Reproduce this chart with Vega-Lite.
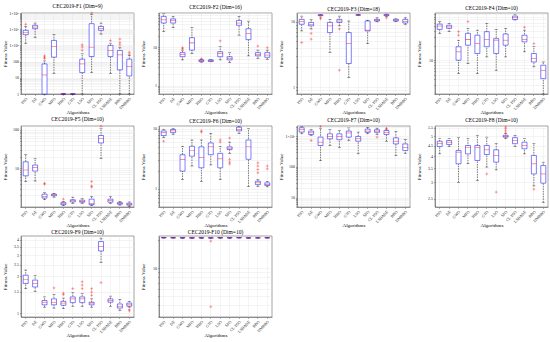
{
"$schema":"https://vega.github.io/schema/vega-lite/v6.json",
"padding":{"left":1,"top":3,"right":2,"bottom":0},
"spacing":{"row":1,"column":4},
"columns":4,
"config":{
 "view":{"stroke":"#444","strokeWidth":0.5},
 "title":{"font":"Liberation Serif","fontSize":5.5,"fontWeight":"normal","offset":1,"color":"#000"},
 "style":{"group-title":{"font":"Liberation Serif","fontSize":5.5,"fontWeight":"normal"}},
 "axis":{"labelFont":"Liberation Serif","labelFontSize":4,"titleFont":"Liberation Serif","titleFontSize":5,"titleFontWeight":"normal","labelColor":"#222","titleColor":"#000","grid":true,"gridColor":"#e4e4e4","gridWidth":0.4,"tickSize":1.5,"tickWidth":0.4,"tickColor":"#444","domainColor":"#444","domainWidth":0.5,"labelPadding":1,"titlePadding":2,"labelOverlap":false,"labelBound":false,"labelFlush":false},
 "axisY":{"minExtent":12,"maxExtent":12},
 "axisX":{"labelAngle":-45,"minExtent":14,"maxExtent":14,"titlePadding":1}
},
"datasets":{
"b":[
{"f":"F1","a":"PSO","lo":1380,"q1":4560,"md":6000,"q3":8500,"hi":15000},
{"f":"F1","a":"DE","lo":3100,"q1":10700,"md":13600,"q3":17300,"hi":24000},
{"f":"F1","a":"GWO","lo":1,"q1":1,"md":15,"q3":72,"hi":110},
{"f":"F1","a":"MFO","lo":19,"q1":188,"md":860,"q3":2030,"hi":4560},
{"f":"F1","a":"HHO","lo":1,"q1":1,"md":1,"q3":1,"hi":1},
{"f":"F1","a":"GTO","lo":1,"q1":1,"md":1,"q3":1,"hi":1},
{"f":"F1","a":"LSO","lo":1,"q1":21,"md":72,"q3":141,"hi":300},
{"f":"F1","a":"SFO","lo":21,"q1":205,"md":780,"q3":21900,"hi":79000},
{"f":"F1","a":"CL-PSO","lo":5000,"q1":8500,"md":11200,"q3":14800,"hi":24000},
{"f":"F1","a":"LSHADE","lo":19,"q1":205,"md":490,"q3":1000,"hi":1380},
{"f":"F1","a":"BBO","lo":1,"q1":31,"md":260,"q3":490,"hi":780},
{"f":"F1","a":"DMBBO","lo":1,"q1":13,"md":49,"q3":141,"hi":240},
{"f":"F2","a":"PSO","lo":26,"q1":43.6,"md":53,"q3":65,"hi":76},
{"f":"F2","a":"DE","lo":33,"q1":43.6,"md":51,"q3":56,"hi":65},
{"f":"F2","a":"GWO","lo":4.7,"q1":5.7,"md":6.6,"q3":7.3,"hi":8.5},
{"f":"F2","a":"MFO","lo":7,"q1":8.5,"md":13.2,"q3":18,"hi":33},
{"f":"F2","a":"HHO","lo":4.1,"q1":4.26,"md":4.5,"q3":4.7,"hi":4.9},
{"f":"F2","a":"GTO","lo":4.2,"q1":4.26,"md":4.5,"q3":4.7,"hi":4.8},
{"f":"F2","a":"LSO","lo":4.7,"q1":5.7,"md":7.0,"q3":7.7,"hi":10.4},
{"f":"F2","a":"SFO","lo":4.0,"q1":4.7,"md":5.2,"q3":5.7,"hi":7.3},
{"f":"F2","a":"CL-PSO","lo":21,"q1":38,"md":43.6,"q3":51,"hi":65},
{"f":"F2","a":"LSHADE","lo":6.0,"q1":16,"md":23,"q3":31,"hi":49},
{"f":"F2","a":"BBO","lo":5.2,"q1":6.0,"md":6.6,"q3":7.3,"hi":8.5},
{"f":"F2","a":"DMBBO","lo":4.9,"q1":5.5,"md":6.3,"q3":7.3,"hi":8.5},
{"f":"F3","a":"PSO","lo":7.2,"q1":9.1,"md":10,"q3":10.8,"hi":12.1},
{"f":"F3","a":"DE","lo":7.7,"q1":8.6,"md":9.1,"q3":9.7,"hi":10.8},
{"f":"F3","a":"GWO","lo":12.2,"q1":12.3,"md":12.5,"q3":12.7,"hi":12.8},
{"f":"F3","a":"MFO","lo":3.4,"q1":6.8,"md":8.6,"q3":9.7,"hi":10.8},
{"f":"F3","a":"HHO","lo":8.6,"q1":9.7,"md":10.2,"q3":10.8,"hi":12.1},
{"f":"F3","a":"GTO","lo":1.4,"q1":2.3,"md":4.6,"q3":6.8,"hi":10.2},
{"f":"F3","a":"LSO","lo":12.6,"q1":12.6,"md":12.6,"q3":12.6,"hi":12.6},
{"f":"F3","a":"SFO","lo":4.6,"q1":7.2,"md":7.4,"q3":10.2,"hi":10.5},
{"f":"F3","a":"CL-PSO","lo":9.9,"q1":10.2,"md":10.5,"q3":10.8,"hi":11.4},
{"f":"F3","a":"LSHADE","lo":12.0,"q1":12.3,"md":12.5,"q3":12.8,"hi":13.0},
{"f":"F3","a":"BBO","lo":10.0,"q1":10.2,"md":10.5,"q3":10.8,"hi":11.0},
{"f":"F3","a":"DMBBO","lo":9.1,"q1":9.5,"md":10.0,"q3":10.8,"hi":11.4},
{"f":"F4","a":"PSO","lo":36,"q1":43.5,"md":51,"q3":56,"hi":63},
{"f":"F4","a":"DE","lo":39,"q1":45.7,"md":49,"q3":53,"hi":58},
{"f":"F4","a":"GWO","lo":5.3,"q1":10,"md":14.9,"q3":19,"hi":26},
{"f":"F4","a":"MFO","lo":8.5,"q1":20.5,"md":27,"q3":36,"hi":45.7},
{"f":"F4","a":"HHO","lo":5.3,"q1":13.8,"md":22,"q3":33,"hi":42},
{"f":"F4","a":"GTO","lo":11.7,"q1":19,"md":27,"q3":39,"hi":58},
{"f":"F4","a":"LSO","lo":6.2,"q1":13.8,"md":26,"q3":28,"hi":43.5},
{"f":"F4","a":"SFO","lo":11.7,"q1":20.5,"md":26,"q3":35,"hi":45.7},
{"f":"F4","a":"CL-PSO","lo":68,"q1":70,"md":77,"q3":82,"hi":87},
{"f":"F4","a":"LSHADE","lo":14.9,"q1":24,"md":27,"q3":33,"hi":42},
{"f":"F4","a":"BBO","lo":7.3,"q1":9.2,"md":10.8,"q3":13.8,"hi":19},
{"f":"F4","a":"DMBBO","lo":2.0,"q1":4.15,"md":6.2,"q3":7.9,"hi":9.2},
{"f":"F5","a":"PSO","lo":4.55,"q1":6.4,"md":9.1,"q3":14.8,"hi":23},
{"f":"F5","a":"DE","lo":4.7,"q1":8.5,"md":10.6,"q3":12.2,"hi":18},
{"f":"F5","a":"GWO","lo":1.54,"q1":1.7,"md":1.87,"q3":2.15,"hi":2.37},
{"f":"F5","a":"MFO","lo":1.8,"q1":1.95,"md":2.05,"q3":2.15,"hi":2.25},
{"f":"F5","a":"HHO","lo":1.08,"q1":1.15,"md":1.22,"q3":1.32,"hi":1.4},
{"f":"F5","a":"GTO","lo":1.25,"q1":1.35,"md":1.45,"q3":1.54,"hi":1.8},
{"f":"F5","a":"LSO","lo":1.25,"q1":1.33,"md":1.38,"q3":1.5,"hi":1.65},
{"f":"F5","a":"SFO","lo":1.08,"q1":1.15,"md":1.22,"q3":1.6,"hi":1.88},
{"f":"F5","a":"CL-PSO","lo":18,"q1":45.5,"md":59,"q3":71,"hi":106},
{"f":"F5","a":"LSHADE","lo":1.25,"q1":1.33,"md":1.47,"q3":1.6,"hi":1.9},
{"f":"F5","a":"BBO","lo":1.12,"q1":1.18,"md":1.23,"q3":1.3,"hi":1.4},
{"f":"F5","a":"DMBBO","lo":1.03,"q1":1.12,"md":1.18,"q3":1.25,"hi":1.35},
{"f":"F6","a":"PSO","lo":7.1,"q1":7.7,"md":8.6,"q3":9.2,"hi":9.7},
{"f":"F6","a":"DE","lo":8.1,"q1":8.6,"md":9.2,"q3":9.7,"hi":10},
{"f":"F6","a":"GWO","lo":1.43,"q1":1.97,"md":3.1,"q3":3.7,"hi":5.1},
{"f":"F6","a":"MFO","lo":2.4,"q1":3.5,"md":4.35,"q3":5.1,"hi":6.5},
{"f":"F6","a":"HHO","lo":1.34,"q1":2.24,"md":3.3,"q3":5.0,"hi":6.5},
{"f":"F6","a":"GTO","lo":2.5,"q1":3.7,"md":5.0,"q3":5.8,"hi":8.4},
{"f":"F6","a":"LSO","lo":1.43,"q1":2.24,"md":3.16,"q3":3.9,"hi":5.1},
{"f":"F6","a":"SFO","lo":3.9,"q1":4.5,"md":4.75,"q3":5.0,"hi":6.0},
{"f":"F6","a":"CL-PSO","lo":8.3,"q1":9.2,"md":9.7,"q3":10.6,"hi":11},
{"f":"F6","a":"LSHADE","lo":1.1,"q1":3.1,"md":5.0,"q3":6.5,"hi":10},
{"f":"F6","a":"BBO","lo":1.1,"q1":1.18,"md":1.26,"q3":1.34,"hi":1.43},
{"f":"F6","a":"DMBBO","lo":1.08,"q1":1.14,"md":1.18,"q3":1.26,"hi":1.34},
{"f":"F7","a":"PSO","lo":1220,"q1":1390,"md":1660,"q3":1930,"hi":2130},
{"f":"F7","a":"DE","lo":1080,"q1":1160,"md":1320,"q3":1500,"hi":1660},
{"f":"F7","a":"GWO","lo":160,"q1":505,"md":650,"q3":950,"hi":1780},
{"f":"F7","a":"MFO","lo":505,"q1":840,"md":1000,"q3":1220,"hi":1660},
{"f":"F7","a":"HHO","lo":440,"q1":780,"md":1000,"q3":1220,"hi":1580},
{"f":"F7","a":"GTO","lo":740,"q1":950,"md":1300,"q3":1500,"hi":1900},
{"f":"F7","a":"LSO","lo":270,"q1":700,"md":840,"q3":1000,"hi":1390},
{"f":"F7","a":"SFO","lo":1220,"q1":1360,"md":1500,"q3":1740,"hi":2000},
{"f":"F7","a":"CL-PSO","lo":1160,"q1":1360,"md":1500,"q3":1660,"hi":1870},
{"f":"F7","a":"LSHADE","lo":700,"q1":1160,"md":1360,"q3":1580,"hi":1620},
{"f":"F7","a":"BBO","lo":235,"q1":570,"md":700,"q3":900,"hi":1450},
{"f":"F7","a":"DMBBO","lo":280,"q1":345,"md":440,"q3":570,"hi":780},
{"f":"F8","a":"PSO","lo":4.11,"q1":4.46,"md":4.6,"q3":4.73,"hi":4.86},
{"f":"F8","a":"DE","lo":4.46,"q1":4.56,"md":4.68,"q3":4.77,"hi":4.86},
{"f":"F8","a":"GWO","lo":3.0,"q1":3.68,"md":4.19,"q3":4.27,"hi":4.92},
{"f":"F8","a":"MFO","lo":3.68,"q1":4.11,"md":4.4,"q3":4.51,"hi":4.86},
{"f":"F8","a":"HHO","lo":3.06,"q1":3.82,"md":4.4,"q3":4.51,"hi":5.05},
{"f":"F8","a":"GTO","lo":3.55,"q1":4.08,"md":4.3,"q3":4.51,"hi":4.95},
{"f":"F8","a":"LSO","lo":3.44,"q1":3.75,"md":4.04,"q3":4.3,"hi":4.6},
{"f":"F8","a":"SFO","lo":4.86,"q1":4.95,"md":4.99,"q3":5.05,"hi":5.14},
{"f":"F8","a":"CL-PSO","lo":4.46,"q1":4.6,"md":4.77,"q3":4.92,"hi":5.05},
{"f":"F8","a":"LSHADE","lo":4.11,"q1":4.35,"md":4.51,"q3":4.68,"hi":4.86},
{"f":"F8","a":"BBO","lo":2.88,"q1":3.29,"md":3.68,"q3":4.04,"hi":4.6},
{"f":"F8","a":"DMBBO","lo":2.4,"q1":2.97,"md":3.29,"q3":3.61,"hi":3.75},
{"f":"F9","a":"PSO","lo":1.59,"q1":1.75,"md":1.89,"q3":2.05,"hi":2.26},
{"f":"F9","a":"DE","lo":1.51,"q1":1.64,"md":1.75,"q3":1.87,"hi":2.03},
{"f":"F9","a":"GWO","lo":1.12,"q1":1.17,"md":1.23,"q3":1.27,"hi":1.36},
{"f":"F9","a":"MFO","lo":1.1,"q1":1.17,"md":1.23,"q3":1.31,"hi":1.42},
{"f":"F9","a":"HHO","lo":1.09,"q1":1.16,"md":1.21,"q3":1.25,"hi":1.33},
{"f":"F9","a":"GTO","lo":1.14,"q1":1.22,"md":1.31,"q3":1.36,"hi":1.47},
{"f":"F9","a":"LSO","lo":1.14,"q1":1.22,"md":1.31,"q3":1.36,"hi":1.45},
{"f":"F9","a":"SFO","lo":1.12,"q1":1.17,"md":1.21,"q3":1.23,"hi":1.31},
{"f":"F9","a":"CL-PSO","lo":2.61,"q1":3.24,"md":3.52,"q3":3.87,"hi":4.13},
{"f":"F9","a":"LSHADE","lo":1.14,"q1":1.23,"md":1.27,"q3":1.31,"hi":1.38},
{"f":"F9","a":"BBO","lo":1.05,"q1":1.1,"md":1.14,"q3":1.19,"hi":1.3},
{"f":"F9","a":"DMBBO","lo":1.12,"q1":1.14,"md":1.17,"q3":1.21,"hi":1.25},
{"f":"F10","a":"PSO","lo":20.9,"q1":21.0,"md":21.1,"q3":21.2,"hi":21.3},
{"f":"F10","a":"DE","lo":20.9,"q1":21.0,"md":21.05,"q3":21.1,"hi":21.2},
{"f":"F10","a":"GWO","lo":20.8,"q1":20.95,"md":21.05,"q3":21.15,"hi":21.3},
{"f":"F10","a":"MFO","lo":20.7,"q1":20.9,"md":21.0,"q3":21.1,"hi":21.2},
{"f":"F10","a":"HHO","lo":20.8,"q1":20.95,"md":21.0,"q3":21.1,"hi":21.2},
{"f":"F10","a":"GTO","lo":20.6,"q1":20.9,"md":21.0,"q3":21.1,"hi":21.2},
{"f":"F10","a":"LSO","lo":20.8,"q1":20.95,"md":21.05,"q3":21.15,"hi":21.25},
{"f":"F10","a":"SFO","lo":20.8,"q1":20.95,"md":21.05,"q3":21.15,"hi":21.3},
{"f":"F10","a":"CL-PSO","lo":20.9,"q1":21.0,"md":21.1,"q3":21.15,"hi":21.25},
{"f":"F10","a":"LSHADE","lo":20.8,"q1":20.9,"md":21.0,"q3":21.1,"hi":21.2},
{"f":"F10","a":"BBO","lo":21.0,"q1":21.0,"md":21.0,"q3":21.0,"hi":21.0},
{"f":"F10","a":"DMBBO","lo":20.9,"q1":21.0,"md":21.05,"q3":21.1,"hi":21.2}
],
"o":[
{"f":"F1","a":"PSO","v":20000},
{"f":"F1","a":"GWO","v":155},{"f":"F1","a":"GWO","v":188},{"f":"F1","a":"GWO","v":226},
{"f":"F1","a":"LSO","v":500},{"f":"F1","a":"LSO","v":800},{"f":"F1","a":"LSO","v":1100},
{"f":"F1","a":"SFO","v":100000},
{"f":"F1","a":"LSHADE","v":2000},
{"f":"F1","a":"BBO","v":1100},{"f":"F1","a":"BBO","v":1500},{"f":"F1","a":"BBO","v":2450},
{"f":"F1","a":"DMBBO","v":290},{"f":"F1","a":"DMBBO","v":380},
{"f":"F2","a":"GWO","v":9.2},{"f":"F2","a":"GWO","v":9.8},
{"f":"F2","a":"HHO","v":5.1},
{"f":"F2","a":"LSO","v":14.9},
{"f":"F2","a":"BBO","v":10.8},
{"f":"F2","a":"DMBBO","v":9.8},
{"f":"F3","a":"PSO","v":4.8},
{"f":"F3","a":"DE","v":6.6},{"f":"F3","a":"DE","v":5.4},
{"f":"F3","a":"GWO","v":11.5},{"f":"F3","a":"GWO","v":11.0},
{"f":"F3","a":"HHO","v":7.7},{"f":"F3","a":"HHO","v":1.82},
{"f":"F3","a":"LSHADE","v":11.4},
{"f":"F4","a":"GWO","v":33},{"f":"F4","a":"GWO","v":39},
{"f":"F4","a":"MFO","v":63},
{"f":"F4","a":"LSHADE","v":48},
{"f":"F4","a":"BBO","v":22},
{"f":"F5","a":"GWO","v":3.9},{"f":"F5","a":"GWO","v":4.1},
{"f":"F5","a":"HHO","v":1.6},
{"f":"F5","a":"SFO","v":3.3},{"f":"F5","a":"SFO","v":3.5},{"f":"F5","a":"SFO","v":4.55},
{"f":"F5","a":"CL-PSO","v":124},
{"f":"F6","a":"PSO","v":6.2},
{"f":"F6","a":"HHO","v":8.8},{"f":"F6","a":"HHO","v":9.2},
{"f":"F6","a":"LSO","v":6.0},{"f":"F6","a":"LSO","v":6.5},
{"f":"F6","a":"SFO","v":2.6},{"f":"F6","a":"SFO","v":2.8},{"f":"F6","a":"SFO","v":3.1},{"f":"F6","a":"SFO","v":7.0},
{"f":"F6","a":"BBO","v":1.85},{"f":"F6","a":"BBO","v":2.1},{"f":"F6","a":"BBO","v":2.4},{"f":"F6","a":"BBO","v":2.7},
{"f":"F6","a":"DMBBO","v":2.15},{"f":"F6","a":"DMBBO","v":2.4},
{"f":"F7","a":"DE","v":740},
{"f":"F7","a":"GWO","v":2130},
{"f":"F7","a":"CL-PSO","v":950},
{"f":"F7","a":"LSHADE","v":1750},{"f":"F7","a":"LSHADE","v":1850},
{"f":"F8","a":"GTO","v":3.29},
{"f":"F8","a":"LSO","v":2.69},
{"f":"F8","a":"SFO","v":5.17},{"f":"F8","a":"SFO","v":5.3},{"f":"F8","a":"SFO","v":5.43},{"f":"F8","a":"SFO","v":5.54},
{"f":"F8","a":"BBO","v":2.78},
{"f":"F9","a":"MFO","v":1.61},
{"f":"F9","a":"HHO","v":1.42},{"f":"F9","a":"HHO","v":1.46},
{"f":"F9","a":"GTO","v":1.59},
{"f":"F9","a":"LSO","v":1.59},{"f":"F9","a":"LSO","v":1.70},{"f":"F9","a":"LSO","v":1.81},
{"f":"F9","a":"SFO","v":1.4},{"f":"F9","a":"SFO","v":1.49},{"f":"F9","a":"SFO","v":1.59},
{"f":"F9","a":"CL-PSO","v":1.78},
{"f":"F9","a":"DMBBO","v":1.045},{"f":"F9","a":"DMBBO","v":1.07},
{"f":"F10","a":"GTO","v":19.4},{"f":"F10","a":"GTO","v":3.86}
]
},
"concat":[
{"title":"CEC2019-F1 (Dim=9)","width":113,"height":81,
 "encoding":{"x":{"field":"a","type":"nominal","title":"Algorithms","scale":{"domain":["PSO","DE","GWO","MFO","HHO","GTO","LSO","SFO","CL-PSO","LSHADE","BBO","DMBBO"],"paddingInner":0,"paddingOuter":0},"axis":{"labelAngle":-45}}},
 "layer":[
  {"data":{"name":"b"},"transform":[{"filter":"datum.f=='F1'"}],"mark":{"type":"rule","strokeDash":[1.5,1],"strokeWidth":0.5,"color":"#000"},"encoding":{"y":{"field":"lo","type":"quantitative","title":"Fitness Value","scale":{"type":"log","domain":[1,100000],"nice":false},"axis":{"values":[1,2,3,4,5,6,7,8,9,10,20,30,40,50,60,70,80,90,100,200,300,400,500,600,700,800,900,1000,2000,3000,4000,5000,6000,7000,8000,9000,10000,20000,30000,40000,50000,60000,70000,80000,90000,100000],"labelExpr":"datum.value==1?'1':datum.value==10?'10':datum.value==100?'100':datum.value==1000?'1×10³':datum.value==10000?'1×10⁴':datum.value==100000?'1×10⁵':''"}},"y2":{"field":"hi"}}},
  {"data":{"name":"b"},"transform":[{"filter":"datum.f=='F1'"}],"mark":{"type":"tick","color":"#000","size":3,"thickness":0.5},"encoding":{"y":{"field":"lo","type":"quantitative","title":"Fitness Value","scale":{"type":"log","domain":[1,100000],"nice":false}}}},
  {"data":{"name":"b"},"transform":[{"filter":"datum.f=='F1'"}],"mark":{"type":"tick","color":"#000","size":3,"thickness":0.5},"encoding":{"y":{"field":"hi","type":"quantitative","title":"Fitness Value","scale":{"type":"log","domain":[1,100000],"nice":false}}}},
  {"data":{"name":"b"},"transform":[{"filter":"datum.f=='F1'"}],"mark":{"type":"bar","fill":"#fff","stroke":"#0000ff","strokeWidth":0.5,"size":5},"encoding":{"y":{"field":"q1","type":"quantitative","title":"Fitness Value","scale":{"type":"log","domain":[1,100000],"nice":false}},"y2":{"field":"q3"}}},
  {"data":{"name":"b"},"transform":[{"filter":"datum.f=='F1'"}],"mark":{"type":"tick","color":"#f00","size":5,"thickness":0.6},"encoding":{"y":{"field":"md","type":"quantitative","title":"Fitness Value","scale":{"type":"log","domain":[1,100000],"nice":false}}}},
  {"data":{"name":"o"},"transform":[{"filter":"datum.f=='F1'"}],"mark":{"type":"point","shape":"M-1,0L1,0M0,-1L0,1","filled":false,"stroke":"#f00","strokeWidth":0.5,"size":8},"encoding":{"y":{"field":"v","type":"quantitative","title":"Fitness Value","scale":{"type":"log","domain":[1,100000],"nice":false}}}}
 ]},
{"title":"CEC2019-F2 (Dim=16)","width":113,"height":81,
 "encoding":{"x":{"field":"a","type":"nominal","title":"Algorithms","scale":{"domain":["PSO","DE","GWO","MFO","HHO","GTO","LSO","SFO","CL-PSO","LSHADE","BBO","DMBBO"],"paddingInner":0,"paddingOuter":0},"axis":{"labelAngle":-45}}},
 "layer":[
  {"data":{"name":"b"},"transform":[{"filter":"datum.f=='F2'"}],"mark":{"type":"rule","strokeDash":[1.5,1],"strokeWidth":0.5,"color":"#000"},"encoding":{"y":{"field":"lo","type":"quantitative","title":"Fitness Value","scale":{"type":"log","domain":[0.6,80],"nice":false},"axis":{"values":[0.6,0.7,0.8,0.9,1,2,3,4,5,6,7,8,9,10,20,30,40,50,60,70,80],"labelExpr":"datum.value==1||datum.value==10?''+datum.value:''"}},"y2":{"field":"hi"}}},
  {"data":{"name":"b"},"transform":[{"filter":"datum.f=='F2'"}],"mark":{"type":"tick","color":"#000","size":3,"thickness":0.5},"encoding":{"y":{"field":"lo","type":"quantitative","title":"Fitness Value","scale":{"type":"log","domain":[0.6,80],"nice":false}}}},
  {"data":{"name":"b"},"transform":[{"filter":"datum.f=='F2'"}],"mark":{"type":"tick","color":"#000","size":3,"thickness":0.5},"encoding":{"y":{"field":"hi","type":"quantitative","title":"Fitness Value","scale":{"type":"log","domain":[0.6,80],"nice":false}}}},
  {"data":{"name":"b"},"transform":[{"filter":"datum.f=='F2'"}],"mark":{"type":"bar","fill":"#fff","stroke":"#0000ff","strokeWidth":0.5,"size":5},"encoding":{"y":{"field":"q1","type":"quantitative","title":"Fitness Value","scale":{"type":"log","domain":[0.6,80],"nice":false}},"y2":{"field":"q3"}}},
  {"data":{"name":"b"},"transform":[{"filter":"datum.f=='F2'"}],"mark":{"type":"tick","color":"#f00","size":5,"thickness":0.6},"encoding":{"y":{"field":"md","type":"quantitative","title":"Fitness Value","scale":{"type":"log","domain":[0.6,80],"nice":false}}}},
  {"data":{"name":"o"},"transform":[{"filter":"datum.f=='F2'"}],"mark":{"type":"point","shape":"M-1,0L1,0M0,-1L0,1","filled":false,"stroke":"#f00","strokeWidth":0.5,"size":8},"encoding":{"y":{"field":"v","type":"quantitative","title":"Fitness Value","scale":{"type":"log","domain":[0.6,80],"nice":false}}}}
 ]},
{"title":"CEC2019-F3 (Dim=18)","width":113,"height":81,
 "encoding":{"x":{"field":"a","type":"nominal","title":"Algorithms","scale":{"domain":["PSO","DE","GWO","MFO","HHO","GTO","LSO","SFO","CL-PSO","LSHADE","BBO","DMBBO"],"paddingInner":0,"paddingOuter":0},"axis":{"labelAngle":-45}}},
 "layer":[
  {"data":{"name":"b"},"transform":[{"filter":"datum.f=='F3'"}],"mark":{"type":"rule","strokeDash":[1.5,1],"strokeWidth":0.5,"color":"#000"},"encoding":{"y":{"field":"lo","type":"quantitative","title":"Fitness Value","scale":{"type":"log","domain":[0.79,13.5],"nice":false},"axis":{"values":[0.8,0.9,1,2,3,4,5,6,7,8,9,10],"labelExpr":"datum.value==1||datum.value==10?''+datum.value:''"}},"y2":{"field":"hi"}}},
  {"data":{"name":"b"},"transform":[{"filter":"datum.f=='F3'"}],"mark":{"type":"tick","color":"#000","size":3,"thickness":0.5},"encoding":{"y":{"field":"lo","type":"quantitative","title":"Fitness Value","scale":{"type":"log","domain":[0.79,13.5],"nice":false}}}},
  {"data":{"name":"b"},"transform":[{"filter":"datum.f=='F3'"}],"mark":{"type":"tick","color":"#000","size":3,"thickness":0.5},"encoding":{"y":{"field":"hi","type":"quantitative","title":"Fitness Value","scale":{"type":"log","domain":[0.79,13.5],"nice":false}}}},
  {"data":{"name":"b"},"transform":[{"filter":"datum.f=='F3'"}],"mark":{"type":"bar","fill":"#fff","stroke":"#0000ff","strokeWidth":0.5,"size":5},"encoding":{"y":{"field":"q1","type":"quantitative","title":"Fitness Value","scale":{"type":"log","domain":[0.79,13.5],"nice":false}},"y2":{"field":"q3"}}},
  {"data":{"name":"b"},"transform":[{"filter":"datum.f=='F3'"}],"mark":{"type":"tick","color":"#f00","size":5,"thickness":0.6},"encoding":{"y":{"field":"md","type":"quantitative","title":"Fitness Value","scale":{"type":"log","domain":[0.79,13.5],"nice":false}}}},
  {"data":{"name":"o"},"transform":[{"filter":"datum.f=='F3'"}],"mark":{"type":"point","shape":"M-1,0L1,0M0,-1L0,1","filled":false,"stroke":"#f00","strokeWidth":0.5,"size":8},"encoding":{"y":{"field":"v","type":"quantitative","title":"Fitness Value","scale":{"type":"log","domain":[0.79,13.5],"nice":false}}}}
 ]},
{"title":"CEC2019-F4 (Dim=10)","width":113,"height":81,
 "encoding":{"x":{"field":"a","type":"nominal","title":"Algorithms","scale":{"domain":["PSO","DE","GWO","MFO","HHO","GTO","LSO","SFO","CL-PSO","LSHADE","BBO","DMBBO"],"paddingInner":0,"paddingOuter":0},"axis":{"labelAngle":-45}}},
 "layer":[
  {"data":{"name":"b"},"transform":[{"filter":"datum.f=='F4'"}],"mark":{"type":"rule","strokeDash":[1.5,1],"strokeWidth":0.5,"color":"#000"},"encoding":{"y":{"field":"lo","type":"quantitative","title":"Fitness Value","scale":{"type":"log","domain":[2,95],"nice":false},"axis":{"values":[2,3,4,5,6,7,8,9,10,20,30,40,50,60,70,80,90],"labelExpr":"datum.value==10?'10':''"}},"y2":{"field":"hi"}}},
  {"data":{"name":"b"},"transform":[{"filter":"datum.f=='F4'"}],"mark":{"type":"tick","color":"#000","size":3,"thickness":0.5},"encoding":{"y":{"field":"lo","type":"quantitative","title":"Fitness Value","scale":{"type":"log","domain":[2,95],"nice":false}}}},
  {"data":{"name":"b"},"transform":[{"filter":"datum.f=='F4'"}],"mark":{"type":"tick","color":"#000","size":3,"thickness":0.5},"encoding":{"y":{"field":"hi","type":"quantitative","title":"Fitness Value","scale":{"type":"log","domain":[2,95],"nice":false}}}},
  {"data":{"name":"b"},"transform":[{"filter":"datum.f=='F4'"}],"mark":{"type":"bar","fill":"#fff","stroke":"#0000ff","strokeWidth":0.5,"size":5},"encoding":{"y":{"field":"q1","type":"quantitative","title":"Fitness Value","scale":{"type":"log","domain":[2,95],"nice":false}},"y2":{"field":"q3"}}},
  {"data":{"name":"b"},"transform":[{"filter":"datum.f=='F4'"}],"mark":{"type":"tick","color":"#f00","size":5,"thickness":0.6},"encoding":{"y":{"field":"md","type":"quantitative","title":"Fitness Value","scale":{"type":"log","domain":[2,95],"nice":false}}}},
  {"data":{"name":"o"},"transform":[{"filter":"datum.f=='F4'"}],"mark":{"type":"point","shape":"M-1,0L1,0M0,-1L0,1","filled":false,"stroke":"#f00","strokeWidth":0.5,"size":8},"encoding":{"y":{"field":"v","type":"quantitative","title":"Fitness Value","scale":{"type":"log","domain":[2,95],"nice":false}}}}
 ]},
{"title":"CEC2019-F5 (Dim=10)","width":113,"height":81,
 "encoding":{"x":{"field":"a","type":"nominal","title":"Algorithms","scale":{"domain":["PSO","DE","GWO","MFO","HHO","GTO","LSO","SFO","CL-PSO","LSHADE","BBO","DMBBO"],"paddingInner":0,"paddingOuter":0},"axis":{"labelAngle":-45}}},
 "layer":[
  {"data":{"name":"b"},"transform":[{"filter":"datum.f=='F5'"}],"mark":{"type":"rule","strokeDash":[1.5,1],"strokeWidth":0.5,"color":"#000"},"encoding":{"y":{"field":"lo","type":"quantitative","title":"Fitness Value","scale":{"type":"log","domain":[1,125],"nice":false},"axis":{"values":[1,2,3,4,5,6,7,8,9,10,20,30,40,50,60,70,80,90,100],"labelExpr":"datum.value==10||datum.value==100?''+datum.value:''"}},"y2":{"field":"hi"}}},
  {"data":{"name":"b"},"transform":[{"filter":"datum.f=='F5'"}],"mark":{"type":"tick","color":"#000","size":3,"thickness":0.5},"encoding":{"y":{"field":"lo","type":"quantitative","title":"Fitness Value","scale":{"type":"log","domain":[1,125],"nice":false}}}},
  {"data":{"name":"b"},"transform":[{"filter":"datum.f=='F5'"}],"mark":{"type":"tick","color":"#000","size":3,"thickness":0.5},"encoding":{"y":{"field":"hi","type":"quantitative","title":"Fitness Value","scale":{"type":"log","domain":[1,125],"nice":false}}}},
  {"data":{"name":"b"},"transform":[{"filter":"datum.f=='F5'"}],"mark":{"type":"bar","fill":"#fff","stroke":"#0000ff","strokeWidth":0.5,"size":5},"encoding":{"y":{"field":"q1","type":"quantitative","title":"Fitness Value","scale":{"type":"log","domain":[1,125],"nice":false}},"y2":{"field":"q3"}}},
  {"data":{"name":"b"},"transform":[{"filter":"datum.f=='F5'"}],"mark":{"type":"tick","color":"#f00","size":5,"thickness":0.6},"encoding":{"y":{"field":"md","type":"quantitative","title":"Fitness Value","scale":{"type":"log","domain":[1,125],"nice":false}}}},
  {"data":{"name":"o"},"transform":[{"filter":"datum.f=='F5'"}],"mark":{"type":"point","shape":"M-1,0L1,0M0,-1L0,1","filled":false,"stroke":"#f00","strokeWidth":0.5,"size":8},"encoding":{"y":{"field":"v","type":"quantitative","title":"Fitness Value","scale":{"type":"log","domain":[1,125],"nice":false}}}}
 ]},
{"title":"CEC2019-F6 (Dim=10)","width":113,"height":81,
 "encoding":{"x":{"field":"a","type":"nominal","title":"Algorithms","scale":{"domain":["PSO","DE","GWO","MFO","HHO","GTO","LSO","SFO","CL-PSO","LSHADE","BBO","DMBBO"],"paddingInner":0,"paddingOuter":0},"axis":{"labelAngle":-45}}},
 "layer":[
  {"data":{"name":"b"},"transform":[{"filter":"datum.f=='F6'"}],"mark":{"type":"rule","strokeDash":[1.5,1],"strokeWidth":0.5,"color":"#000"},"encoding":{"y":{"field":"lo","type":"quantitative","title":"Fitness Value","scale":{"type":"log","domain":[0.5,11.1],"nice":false},"axis":{"values":[0.5,0.6,0.7,0.8,0.9,1,2,3,4,5,6,7,8,9,10],"labelExpr":"datum.value==1||datum.value==10?''+datum.value:''"}},"y2":{"field":"hi"}}},
  {"data":{"name":"b"},"transform":[{"filter":"datum.f=='F6'"}],"mark":{"type":"tick","color":"#000","size":3,"thickness":0.5},"encoding":{"y":{"field":"lo","type":"quantitative","title":"Fitness Value","scale":{"type":"log","domain":[0.5,11.1],"nice":false}}}},
  {"data":{"name":"b"},"transform":[{"filter":"datum.f=='F6'"}],"mark":{"type":"tick","color":"#000","size":3,"thickness":0.5},"encoding":{"y":{"field":"hi","type":"quantitative","title":"Fitness Value","scale":{"type":"log","domain":[0.5,11.1],"nice":false}}}},
  {"data":{"name":"b"},"transform":[{"filter":"datum.f=='F6'"}],"mark":{"type":"bar","fill":"#fff","stroke":"#0000ff","strokeWidth":0.5,"size":5},"encoding":{"y":{"field":"q1","type":"quantitative","title":"Fitness Value","scale":{"type":"log","domain":[0.5,11.1],"nice":false}},"y2":{"field":"q3"}}},
  {"data":{"name":"b"},"transform":[{"filter":"datum.f=='F6'"}],"mark":{"type":"tick","color":"#f00","size":5,"thickness":0.6},"encoding":{"y":{"field":"md","type":"quantitative","title":"Fitness Value","scale":{"type":"log","domain":[0.5,11.1],"nice":false}}}},
  {"data":{"name":"o"},"transform":[{"filter":"datum.f=='F6'"}],"mark":{"type":"point","shape":"M-1,0L1,0M0,-1L0,1","filled":false,"stroke":"#f00","strokeWidth":0.5,"size":8},"encoding":{"y":{"field":"v","type":"quantitative","title":"Fitness Value","scale":{"type":"log","domain":[0.5,11.1],"nice":false}}}}
 ]},
{"title":"CEC2019-F7 (Dim=10)","width":113,"height":81,
 "encoding":{"x":{"field":"a","type":"nominal","title":"Algorithms","scale":{"domain":["PSO","DE","GWO","MFO","HHO","GTO","LSO","SFO","CL-PSO","LSHADE","BBO","DMBBO"],"paddingInner":0,"paddingOuter":0},"axis":{"labelAngle":-45}}},
 "layer":[
  {"data":{"name":"b"},"transform":[{"filter":"datum.f=='F7'"}],"mark":{"type":"rule","strokeDash":[1.5,1],"strokeWidth":0.5,"color":"#000"},"encoding":{"y":{"field":"lo","type":"quantitative","title":"Fitness Value","scale":{"type":"log","domain":[4.9,2200],"nice":false},"axis":{"values":[5,6,7,8,9,10,20,30,40,50,60,70,80,90,100,200,300,400,500,600,700,800,900,1000,2000],"labelExpr":"datum.value==10||datum.value==100?''+datum.value:datum.value==1000?'1×10³':''"}},"y2":{"field":"hi"}}},
  {"data":{"name":"b"},"transform":[{"filter":"datum.f=='F7'"}],"mark":{"type":"tick","color":"#000","size":3,"thickness":0.5},"encoding":{"y":{"field":"lo","type":"quantitative","title":"Fitness Value","scale":{"type":"log","domain":[4.9,2200],"nice":false}}}},
  {"data":{"name":"b"},"transform":[{"filter":"datum.f=='F7'"}],"mark":{"type":"tick","color":"#000","size":3,"thickness":0.5},"encoding":{"y":{"field":"hi","type":"quantitative","title":"Fitness Value","scale":{"type":"log","domain":[4.9,2200],"nice":false}}}},
  {"data":{"name":"b"},"transform":[{"filter":"datum.f=='F7'"}],"mark":{"type":"bar","fill":"#fff","stroke":"#0000ff","strokeWidth":0.5,"size":5},"encoding":{"y":{"field":"q1","type":"quantitative","title":"Fitness Value","scale":{"type":"log","domain":[4.9,2200],"nice":false}},"y2":{"field":"q3"}}},
  {"data":{"name":"b"},"transform":[{"filter":"datum.f=='F7'"}],"mark":{"type":"tick","color":"#f00","size":5,"thickness":0.6},"encoding":{"y":{"field":"md","type":"quantitative","title":"Fitness Value","scale":{"type":"log","domain":[4.9,2200],"nice":false}}}},
  {"data":{"name":"o"},"transform":[{"filter":"datum.f=='F7'"}],"mark":{"type":"point","shape":"M-1,0L1,0M0,-1L0,1","filled":false,"stroke":"#f00","strokeWidth":0.5,"size":8},"encoding":{"y":{"field":"v","type":"quantitative","title":"Fitness Value","scale":{"type":"log","domain":[4.9,2200],"nice":false}}}}
 ]},
{"title":"CEC2019-F8 (Dim=10)","width":113,"height":81,
 "encoding":{"x":{"field":"a","type":"nominal","title":"Algorithms","scale":{"domain":["PSO","DE","GWO","MFO","HHO","GTO","LSO","SFO","CL-PSO","LSHADE","BBO","DMBBO"],"paddingInner":0,"paddingOuter":0},"axis":{"labelAngle":-45}}},
 "layer":[
  {"data":{"name":"b"},"transform":[{"filter":"datum.f=='F8'"}],"mark":{"type":"rule","strokeDash":[1.5,1],"strokeWidth":0.5,"color":"#000"},"encoding":{"y":{"field":"lo","type":"quantitative","title":"Fitness Value","scale":{"type":"log","domain":[2.28,5.6],"nice":false},"axis":{"values":[2.5,3,3.5,4,4.5,5,5.5],"labelExpr":"''+datum.value"}},"y2":{"field":"hi"}}},
  {"data":{"name":"b"},"transform":[{"filter":"datum.f=='F8'"}],"mark":{"type":"tick","color":"#000","size":3,"thickness":0.5},"encoding":{"y":{"field":"lo","type":"quantitative","title":"Fitness Value","scale":{"type":"log","domain":[2.28,5.6],"nice":false}}}},
  {"data":{"name":"b"},"transform":[{"filter":"datum.f=='F8'"}],"mark":{"type":"tick","color":"#000","size":3,"thickness":0.5},"encoding":{"y":{"field":"hi","type":"quantitative","title":"Fitness Value","scale":{"type":"log","domain":[2.28,5.6],"nice":false}}}},
  {"data":{"name":"b"},"transform":[{"filter":"datum.f=='F8'"}],"mark":{"type":"bar","fill":"#fff","stroke":"#0000ff","strokeWidth":0.5,"size":5},"encoding":{"y":{"field":"q1","type":"quantitative","title":"Fitness Value","scale":{"type":"log","domain":[2.28,5.6],"nice":false}},"y2":{"field":"q3"}}},
  {"data":{"name":"b"},"transform":[{"filter":"datum.f=='F8'"}],"mark":{"type":"tick","color":"#f00","size":5,"thickness":0.6},"encoding":{"y":{"field":"md","type":"quantitative","title":"Fitness Value","scale":{"type":"log","domain":[2.28,5.6],"nice":false}}}},
  {"data":{"name":"o"},"transform":[{"filter":"datum.f=='F8'"}],"mark":{"type":"point","shape":"M-1,0L1,0M0,-1L0,1","filled":false,"stroke":"#f00","strokeWidth":0.5,"size":8},"encoding":{"y":{"field":"v","type":"quantitative","title":"Fitness Value","scale":{"type":"log","domain":[2.28,5.6],"nice":false}}}}
 ]},
{"title":"CEC2019-F9 (Dim=10)","width":113,"height":81,
 "encoding":{"x":{"field":"a","type":"nominal","title":"Algorithms","scale":{"domain":["PSO","DE","GWO","MFO","HHO","GTO","LSO","SFO","CL-PSO","LSHADE","BBO","DMBBO"],"paddingInner":0,"paddingOuter":0},"axis":{"labelAngle":-45}}},
 "layer":[
  {"data":{"name":"b"},"transform":[{"filter":"datum.f=='F9'"}],"mark":{"type":"rule","strokeDash":[1.5,1],"strokeWidth":0.5,"color":"#000"},"encoding":{"y":{"field":"lo","type":"quantitative","title":"Fitness Value","scale":{"type":"log","domain":[0.93,4.3],"nice":false},"axis":{"values":[1,1.5,2,2.5,3,3.5,4],"labelExpr":"''+datum.value"}},"y2":{"field":"hi"}}},
  {"data":{"name":"b"},"transform":[{"filter":"datum.f=='F9'"}],"mark":{"type":"tick","color":"#000","size":3,"thickness":0.5},"encoding":{"y":{"field":"lo","type":"quantitative","title":"Fitness Value","scale":{"type":"log","domain":[0.93,4.3],"nice":false}}}},
  {"data":{"name":"b"},"transform":[{"filter":"datum.f=='F9'"}],"mark":{"type":"tick","color":"#000","size":3,"thickness":0.5},"encoding":{"y":{"field":"hi","type":"quantitative","title":"Fitness Value","scale":{"type":"log","domain":[0.93,4.3],"nice":false}}}},
  {"data":{"name":"b"},"transform":[{"filter":"datum.f=='F9'"}],"mark":{"type":"bar","fill":"#fff","stroke":"#0000ff","strokeWidth":0.5,"size":5},"encoding":{"y":{"field":"q1","type":"quantitative","title":"Fitness Value","scale":{"type":"log","domain":[0.93,4.3],"nice":false}},"y2":{"field":"q3"}}},
  {"data":{"name":"b"},"transform":[{"filter":"datum.f=='F9'"}],"mark":{"type":"tick","color":"#f00","size":5,"thickness":0.6},"encoding":{"y":{"field":"md","type":"quantitative","title":"Fitness Value","scale":{"type":"log","domain":[0.93,4.3],"nice":false}}}},
  {"data":{"name":"o"},"transform":[{"filter":"datum.f=='F9'"}],"mark":{"type":"point","shape":"M-1,0L1,0M0,-1L0,1","filled":false,"stroke":"#f00","strokeWidth":0.5,"size":8},"encoding":{"y":{"field":"v","type":"quantitative","title":"Fitness Value","scale":{"type":"log","domain":[0.93,4.3],"nice":false}}}}
 ]},
{"title":"CEC2019-F10 (Dim=10)","width":113,"height":81,
 "encoding":{"x":{"field":"a","type":"nominal","title":"Algorithms","scale":{"domain":["PSO","DE","GWO","MFO","HHO","GTO","LSO","SFO","CL-PSO","LSHADE","BBO","DMBBO"],"paddingInner":0,"paddingOuter":0},"axis":{"labelAngle":-45}}},
 "layer":[
  {"data":{"name":"b"},"transform":[{"filter":"datum.f=='F10'"}],"mark":{"type":"rule","strokeDash":[1.5,1],"strokeWidth":0.5,"color":"#000"},"encoding":{"y":{"field":"lo","type":"quantitative","title":"Fitness Value","scale":{"type":"log","domain":[3,22],"nice":false},"axis":{"values":[3,4,5,6,7,8,9,10,20],"labelExpr":"datum.value==10?'10':''"}},"y2":{"field":"hi"}}},
  {"data":{"name":"b"},"transform":[{"filter":"datum.f=='F10'"}],"mark":{"type":"tick","color":"#000","size":3,"thickness":0.5},"encoding":{"y":{"field":"lo","type":"quantitative","title":"Fitness Value","scale":{"type":"log","domain":[3,22],"nice":false}}}},
  {"data":{"name":"b"},"transform":[{"filter":"datum.f=='F10'"}],"mark":{"type":"tick","color":"#000","size":3,"thickness":0.5},"encoding":{"y":{"field":"hi","type":"quantitative","title":"Fitness Value","scale":{"type":"log","domain":[3,22],"nice":false}}}},
  {"data":{"name":"b"},"transform":[{"filter":"datum.f=='F10'"}],"mark":{"type":"bar","fill":"#fff","stroke":"#0000ff","strokeWidth":0.5,"size":5},"encoding":{"y":{"field":"q1","type":"quantitative","title":"Fitness Value","scale":{"type":"log","domain":[3,22],"nice":false}},"y2":{"field":"q3"}}},
  {"data":{"name":"b"},"transform":[{"filter":"datum.f=='F10'"}],"mark":{"type":"tick","color":"#f00","size":5,"thickness":0.6},"encoding":{"y":{"field":"md","type":"quantitative","title":"Fitness Value","scale":{"type":"log","domain":[3,22],"nice":false}}}},
  {"data":{"name":"o"},"transform":[{"filter":"datum.f=='F10'"}],"mark":{"type":"point","shape":"M-1,0L1,0M0,-1L0,1","filled":false,"stroke":"#f00","strokeWidth":0.5,"size":8},"encoding":{"y":{"field":"v","type":"quantitative","title":"Fitness Value","scale":{"type":"log","domain":[3,22],"nice":false}}}}
 ]}
]
}
